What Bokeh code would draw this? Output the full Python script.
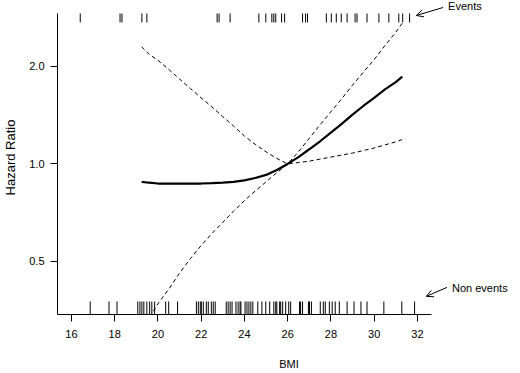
from bokeh.plotting import figure
from bokeh.models import Range1d, FixedTicker, PrintfTickFormatter, Arrow, OpenHead, Label
from bokeh.embed import file_html
from bokeh.resources import INLINE

# ---- data ----
bmi_curve = [19.25, 19.6, 20, 20.5, 21, 21.5, 22, 22.5, 23, 23.5, 24, 24.5, 25, 25.5, 26,
             26.5, 27, 27.5, 28, 28.5, 29, 29.5, 30, 30.5, 31, 31.3]
hr_fit = [0.88, 0.875, 0.87, 0.87, 0.87, 0.87, 0.87, 0.872, 0.875, 0.88, 0.89, 0.905, 0.925,
          0.958, 1.0, 1.05, 1.11, 1.175, 1.25, 1.33, 1.42, 1.51, 1.60, 1.70, 1.79, 1.86]
hr_band_a = [2.30, 2.18, 2.09, 1.96, 1.83, 1.71, 1.60, 1.50, 1.40, 1.31, 1.22, 1.15, 1.09,
             1.04, 1.0, 1.01, 1.02, 1.035, 1.05, 1.065, 1.08, 1.10, 1.12, 1.145, 1.17, 1.19]
hr_band_b = [0.31, 0.335, 0.37, 0.41, 0.46, 0.51, 0.56, 0.61, 0.66, 0.715, 0.77, 0.825, 0.88,
             0.94, 1.0, 1.09, 1.20, 1.32, 1.45, 1.59, 1.75, 1.92, 2.10, 2.32, 2.55, 2.72]

events_bmi = [16.41, 18.25, 18.34, 19.26, 19.49, 22.74, 22.83, 23.34, 24.67, 24.99, 25.27,
              25.36, 25.45, 25.72, 25.86, 26.69, 26.83, 26.92, 27.79, 28.02, 28.25, 28.48,
              28.75, 29.12, 29.21, 29.67, 30.22, 30.68, 31.14, 31.32, 31.64]
nonevents_bmi = [16.87, 17.74, 18.11, 19.07, 19.17, 19.26, 19.35, 19.49, 19.62, 19.72, 19.85,
                 20.36, 20.50, 20.91, 21.78, 21.87, 21.96, 22.01, 22.10, 22.24, 22.33, 22.47,
                 22.56, 22.65, 23.16, 23.25, 23.34, 23.43, 23.61, 23.71, 23.80, 23.84, 24.03,
                 24.12, 24.21, 24.30, 24.39, 24.62, 24.81, 24.99, 25.17, 25.36, 25.45, 25.50,
                 25.63, 25.68, 25.77, 25.91, 26.05, 26.14, 26.55, 26.60, 26.69, 26.96, 27.01,
                 27.10, 27.51, 27.65, 27.74, 27.93, 28.06, 28.20, 28.39, 28.75, 29.07, 29.39,
                 29.67, 30.45, 31.28, 31.87]

x_ticks = [16, 18, 20, 22, 24, 26, 28, 30, 32]
y_ticks = [0.5, 1.0, 2.0]

# ---- layout / style constants ----
X_AXIS_BOUNDS = (15.358, 32.64)
Y_AXIS_BOUNDS = (0.3428, 2.915)
TOP_RUG = (2.915, 2.735)
BOTTOM_RUG = (0.3428, 0.376)
FONT = "Liberation Sans"

p = figure(width=520, height=373, output_backend="svg", toolbar_location=None,
           y_axis_type="log",
           x_range=Range1d(15.358, 36.768), y_range=Range1d(0.3428, 3.197),
           min_border_left=53, min_border_right=0, min_border_top=0, min_border_bottom=59)
p.outline_line_color = None
p.grid.visible = False
p.background_fill_color = "white"
p.border_fill_color = "white"

# curves
p.line(bmi_curve, hr_fit, line_color="black", line_width=2.2)
p.line(bmi_curve, hr_band_a, line_color="black", line_width=1, line_dash="4 3")
p.line(bmi_curve, hr_band_b, line_color="black", line_width=1, line_dash="4 3")

# rugs
p.segment(x0=events_bmi, x1=events_bmi, y0=[TOP_RUG[0]] * len(events_bmi),
          y1=[TOP_RUG[1]] * len(events_bmi), line_color="black", line_width=1)
p.segment(x0=nonevents_bmi, x1=nonevents_bmi, y0=[BOTTOM_RUG[0]] * len(nonevents_bmi),
          y1=[BOTTOM_RUG[1]] * len(nonevents_bmi), line_color="black", line_width=1)

# axes
xa = p.xaxis[0]
xa.bounds = X_AXIS_BOUNDS
xa.ticker = FixedTicker(ticks=x_ticks)
xa.minor_tick_line_color = None
xa.major_tick_in = 0
xa.major_tick_out = 7
xa.major_label_standoff = 8
xa.major_label_text_font = FONT
xa.major_label_text_font_size = "11px"
xa.major_label_text_color = "black"
xa.axis_line_color = "black"
xa.major_tick_line_color = "black"
xa.axis_label = "BMI"
xa.axis_label_text_font = FONT
xa.axis_label_text_font_size = "11px"
xa.axis_label_text_font_style = "normal"
xa.axis_label_text_color = "black"
xa.axis_label_standoff = 17

ya = p.yaxis[0]
ya.bounds = Y_AXIS_BOUNDS
ya.ticker = FixedTicker(ticks=y_ticks)
ya.formatter = PrintfTickFormatter(format="%.1f")
ya.minor_tick_line_color = None
ya.major_tick_in = 0
ya.major_tick_out = 7
ya.major_label_standoff = 6
ya.major_label_text_font = FONT
ya.major_label_text_font_size = "11px"
ya.major_label_text_color = "black"
ya.axis_line_color = "black"
ya.major_tick_line_color = "black"
ya.axis_label = "Hazard Ratio"
ya.axis_label_text_font = FONT
ya.axis_label_text_font_size = "13px"
ya.axis_label_text_font_style = "normal"
ya.axis_label_text_color = "black"
ya.axis_label_standoff = 8

# annotations
p.add_layout(Arrow(end=OpenHead(size=7, line_width=1, line_color="black"),
                   x_start=33.19, y_start=3.042, x_end=31.95, y_end=2.874,
                   line_width=1, line_color="black"))
p.add_layout(Label(x=33.42, y=3.064, text="Events", text_font=FONT, text_font_size="11px",
                   text_baseline="middle", text_color="black"))
p.add_layout(Arrow(end=OpenHead(size=7, line_width=1, line_color="black"),
                   x_start=33.37, y_start=0.4157, x_end=32.41, y_end=0.390,
                   line_width=1, line_color="black"))
p.add_layout(Label(x=33.60, y=0.4128, text="Non events", text_font=FONT, text_font_size="11px",
                   text_baseline="middle", text_color="black"))

open("out.html", "w").write(file_html(p, INLINE))
